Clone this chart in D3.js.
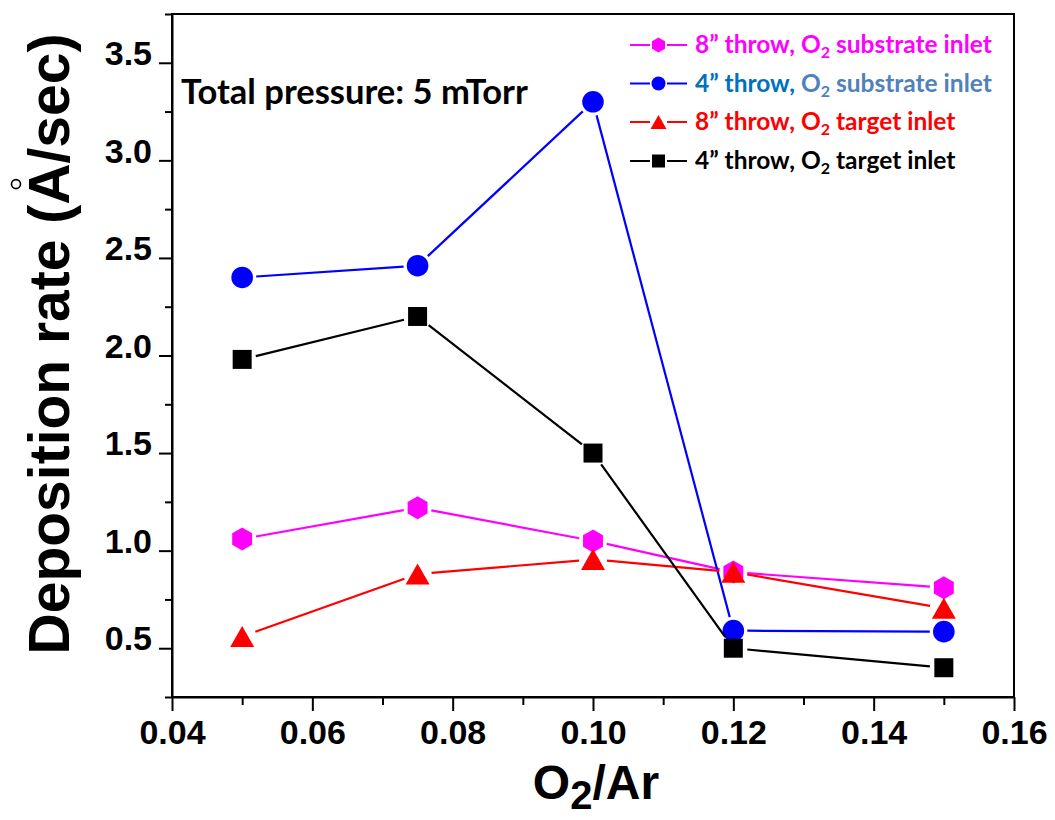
<!DOCTYPE html>
<html>
<head>
<meta charset="utf-8">
<script src="https://cdn.jsdelivr.net/npm/d3@7"></script>
<style>
  html, body { margin: 0; padding: 0; background: #fff; }
  svg { display: block; }
</style>
</head>
<body>
<div id="chart"></div>
<script>
// O2/Ar flow ratio on the x axis
const ratio = [0.05, 0.075, 0.10, 0.12, 0.15];

// Deposition rate (Å/sec) per configuration
const sub8 = [1.06, 1.22, 1.05, 0.89, 0.81];   // 8" throw, O2 substrate inlet
const sub4 = [2.40, 2.46, 3.30, 0.59, 0.585];  // 4" throw, O2 substrate inlet
const tgt8 = [0.56, 0.88, 0.955, 0.89, 0.705]; // 8" throw, O2 target inlet
const tgt4 = [1.98, 2.20, 1.50, 0.50, 0.40];   // 4" throw, O2 target inlet

// Tick values
const xMajor = [0.04, 0.06, 0.08, 0.10, 0.12, 0.14, 0.16];
const xMinor = [0.05, 0.07, 0.09, 0.11, 0.13, 0.15];
const yMajor = [0.5, 1.0, 1.5, 2.0, 2.5, 3.0, 3.5];
const yMinor = [0.25, 0.75, 1.25, 1.75, 2.25, 2.75, 3.25, 3.75];

// Legend text pieces
const seriesNames = ["8\u201D throw, ", "4\u201D throw, ", "8\u201D throw, ", "4\u201D throw, "];
const seriesSuffix = [" substrate inlet", " substrate inlet", " target inlet", " target inlet"];

const W = 1055, H = 820;
const plot = { left: 172, right: 1014, top: 14, bottom: 697 };

const svg = d3.select("#chart").append("svg")
  .attr("width", W).attr("height", H);

const x = d3.scaleLinear().domain([0.04, 0.16]).range([plot.left, plot.right]);
const y = d3.scaleLinear().domain([0.25, 3.75]).range([plot.bottom, plot.top]);

const axisFont = "'Liberation Sans', Arial, sans-serif";
const noteFont = "Lato, 'Open Sans', sans-serif";

// Frame (top and right edges)
svg.append("rect")
  .attr("x", plot.left).attr("y", plot.top)
  .attr("width", plot.right - plot.left).attr("height", plot.bottom - plot.top)
  .attr("fill", "none").attr("stroke", "#000").attr("stroke-width", 2);

// Axes with outward ticks
function styleAxis(g) {
  g.select(".domain").attr("stroke", "#000").attr("stroke-width", 2);
  g.selectAll(".tick line").attr("stroke", "#000").attr("stroke-width", 2);
}

const xAxis = svg.append("g")
  .attr("transform", `translate(0,${plot.bottom})`)
  .call(d3.axisBottom(x).tickValues(xMajor).tickSize(14).tickPadding(9)
    .tickSizeOuter(0).tickFormat(d3.format(".2f")));
styleAxis(xAxis);
xAxis.selectAll(".tick text")
  .attr("font-family", axisFont).attr("font-weight", "bold")
  .attr("font-size", 34).attr("fill", "#000");

svg.append("g")
  .attr("transform", `translate(0,${plot.bottom})`)
  .call(d3.axisBottom(x).tickValues(xMinor).tickSize(8).tickFormat(""))
  .call(g => { g.select(".domain").remove(); styleAxis(g); });

const yAxis = svg.append("g")
  .attr("transform", `translate(${plot.left},0)`)
  .call(d3.axisLeft(y).tickValues(yMajor).tickSize(13).tickPadding(7)
    .tickSizeOuter(0).tickFormat(d3.format(".1f")));
styleAxis(yAxis);
yAxis.selectAll(".tick text")
  .attr("font-family", axisFont).attr("font-weight", "bold")
  .attr("font-size", 34).attr("fill", "#000").attr("dy", "0.05em");

svg.append("g")
  .attr("transform", `translate(${plot.left},0)`)
  .call(d3.axisLeft(y).tickValues(yMinor).tickSize(7).tickFormat(""))
  .call(g => { g.select(".domain").remove(); styleAxis(g); });

// Axis titles
const xTitle = svg.append("text")
  .attr("x", 596).attr("y", 799)
  .attr("text-anchor", "middle")
  .attr("font-family", axisFont).attr("font-weight", "bold")
  .attr("font-size", 48).attr("fill", "#000");
xTitle.append("tspan").text("O");
xTitle.append("tspan").attr("font-size", 40).attr("dy", 10).text("2");
xTitle.append("tspan").attr("dy", -10).text("/Ar");

const yTitleG = svg.append("g").attr("transform", "translate(69,344) rotate(-90)");
const yTitle = yTitleG.append("text")
  .attr("text-anchor", "middle")
  .attr("font-family", axisFont).attr("font-weight", "bold")
  .attr("font-size", 57).attr("fill", "#000")
  .text("Deposition rate (A/sec)");
// Ångström ring above the A
{
  const label = "Deposition rate (A/sec)";
  const idx = label.indexOf("A");
  const ext = yTitle.node().getExtentOfChar(idx);
  yTitleG.append("circle")
    .attr("cx", ext.x + ext.width / 2)
    .attr("cy", ext.y - 1)
    .attr("r", 4.5)
    .attr("fill", "none").attr("stroke", "#000").attr("stroke-width", 1.6);
}

// Marker shapes
const markerPath = {
  hexagon: r => {
    const pts = d3.range(6).map(i => {
      const a = Math.PI / 2 + i * Math.PI / 3;
      return [r * Math.cos(a), r * Math.sin(a)];
    });
    return "M" + pts.map(p => p.join(",")).join("L") + "Z";
  },
  circle: r => `M${-r},0A${r},${r} 0 1,0 ${r},0A${r},${r} 0 1,0 ${-r},0Z`,
  triangle: r => `M0,${-r * 0.88}L${r},${r * 0.88}L${-r},${r * 0.88}Z`,
  square: r => `M${-r},${-r}H${r}V${r}H${-r}Z`
};

const series = [
  { values: sub8, color: "#FF00FF", shape: "hexagon", r: 11.5, lr: 7.5 },
  { values: sub4, color: "#0000FF", shape: "circle",  r: 10.8, lr: 7 },
  { values: tgt8, color: "#FF0000", shape: "triangle", r: 12, lr: 8 },
  { values: tgt4, color: "#000000", shape: "square",  r: 9.5, lr: 6.5 }
];

const gap = 14;
series.forEach(s => {
  const g = svg.append("g");
  const pts = ratio.map((r, i) => [x(r), y(s.values[i])]);
  // connecting segments, trimmed short of each marker
  const segs = d3.pairs(pts).map(([a, b]) => {
    const dx = b[0] - a[0], dy = b[1] - a[1];
    const len = Math.hypot(dx, dy);
    const ux = dx / len, uy = dy / len;
    return [[a[0] + ux * gap, a[1] + uy * gap], [b[0] - ux * gap, b[1] - uy * gap]];
  });
  g.selectAll("line").data(segs).join("line")
    .attr("x1", d => d[0][0]).attr("y1", d => d[0][1])
    .attr("x2", d => d[1][0]).attr("y2", d => d[1][1])
    .attr("stroke", s.color).attr("stroke-width", 2.2);
  g.selectAll("path").data(pts).join("path")
    .attr("transform", d => `translate(${d[0]},${d[1]})`)
    .attr("d", markerPath[s.shape](s.r))
    .attr("fill", s.color);
});

// Annotation
svg.append("text")
  .attr("x", 181).attr("y", 104)
  .attr("font-family", noteFont).attr("font-weight", "bold")
  .attr("font-size", 34.5).attr("fill", "#000")
  .text("Total pressure: 5 mTorr");

// Legend
const legendColors = [
  ["#FF00FF", "#FF00FF"],
  ["#0070C0", "#4F81BD"],
  ["#FF0000", "#FF0000"],
  ["#000000", "#000000"]
];
const legendRowY = [45, 83.5, 122, 161];
series.forEach((s, i) => {
  const ly = legendRowY[i];
  const g = svg.append("g").attr("transform", `translate(0,${ly})`);
  g.append("line").attr("x1", 630).attr("x2", 650).attr("y1", 0).attr("y2", 0)
    .attr("stroke", s.color).attr("stroke-width", 2);
  g.append("line").attr("x1", 667).attr("x2", 687).attr("y1", 0).attr("y2", 0)
    .attr("stroke", s.color).attr("stroke-width", 2);
  g.append("path").attr("transform", "translate(658.5,0)")
    .attr("d", markerPath[s.shape](s.lr)).attr("fill", s.color);
  const t = g.append("text")
    .attr("x", 695).attr("y", 8)
    .attr("font-family", noteFont).attr("font-weight", "bold")
    .attr("font-size", 24.5);
  t.append("tspan").attr("fill", legendColors[i][0]).text(seriesNames[i]);
  t.append("tspan").attr("fill", legendColors[i][1]).text("O");
  t.append("tspan").attr("fill", legendColors[i][1]).attr("font-size", 16).attr("dy", 5).text("2");
  t.append("tspan").attr("fill", legendColors[i][1]).attr("dy", -5).text(seriesSuffix[i]);
});
</script>
</body>
</html>
